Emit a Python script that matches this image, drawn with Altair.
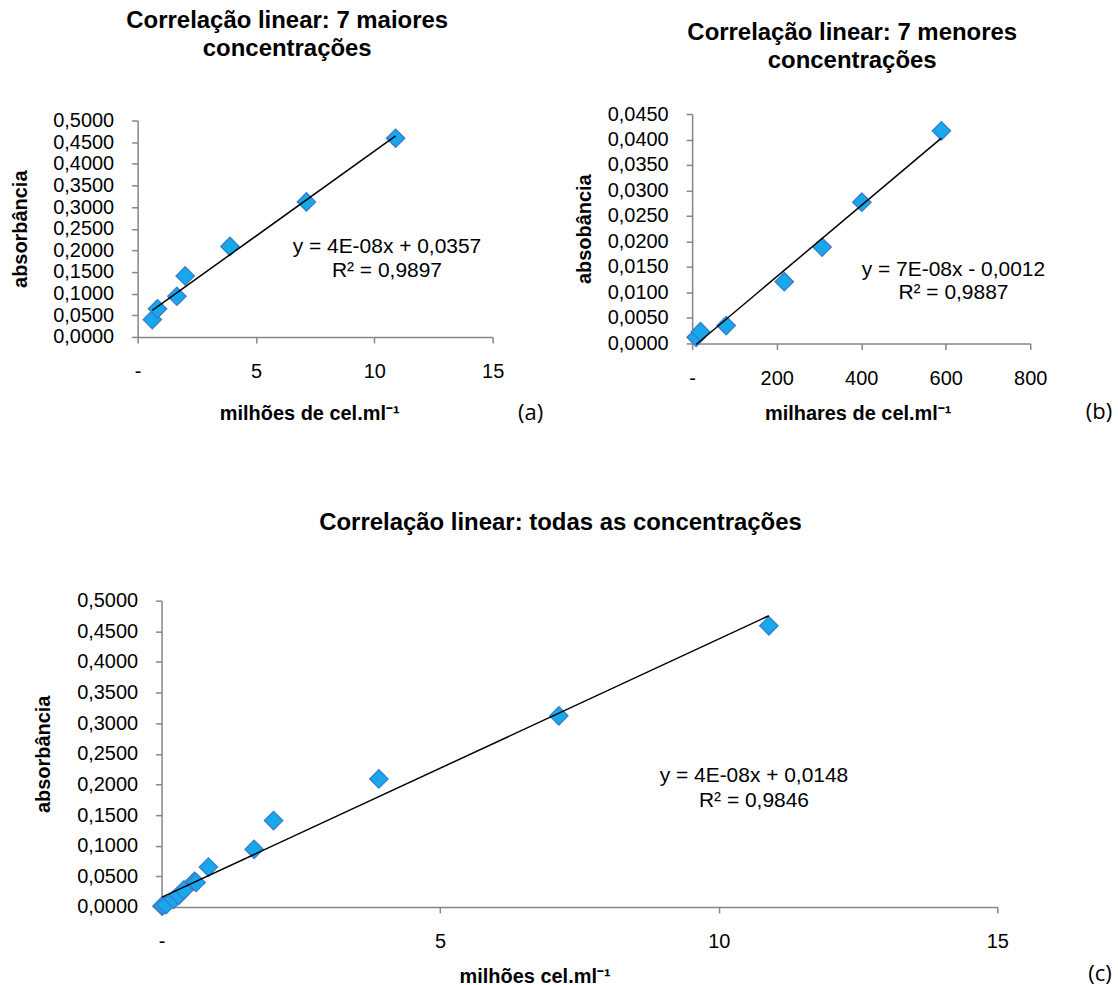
import altair as alt
import pandas as pd

# ---------------- data ----------------
# (a) 7 highest concentrations, millions of cells/ml
a_x = [0.62, 0.84, 1.66, 2.01, 3.90, 7.13, 10.90]
a_y = [0.0400, 0.0650, 0.0940, 0.1410, 0.2090, 0.3120, 0.4590]
# (b) 7 lowest concentrations, thousands of cells/ml
b_x = [9.5, 19.8, 80.6, 218.0, 307.5, 401.6, 589.7]
b_y = [0.0012, 0.0023, 0.0035, 0.0121, 0.0189, 0.0277, 0.0417]
# (c) all concentrations, millions of cells/ml
c_x = [0.0095, 0.0198, 0.0806, 0.218, 0.3075, 0.4016, 0.5897,
       0.62, 0.84, 1.66, 2.01, 3.90, 7.13, 10.90]
c_y = [0.0012, 0.0023, 0.0035, 0.0121, 0.0189, 0.0277, 0.0417,
       0.0400, 0.0650, 0.0940, 0.1410, 0.2090, 0.3120, 0.4590]

a_yticks = [0, 0.05, 0.1, 0.15, 0.2, 0.25, 0.3, 0.35, 0.4, 0.45, 0.5]
b_yticks = [0, 0.005, 0.01, 0.015, 0.02, 0.025, 0.03, 0.035, 0.04, 0.045]
a_xticks = [0, 5, 10, 15]
b_xticks = [0, 200, 400, 600, 800]

eq_a = "y = 4E-08x + 0,0357\nR² = 0,9897"
eq_b = "y = 7E-08x - 0,0012\nR² = 0,9887"
eq_c = "y = 4E-08x + 0,0148\nR² = 0,9846"

FONT = "Liberation Sans"
GRAY = "#868686"
FILL = "#17A7EC"
STROKE = "#3B7CC6"

YFMT = "replace(format(datum.value, '.4f'), '.', ',')"
XFMT = "datum.value == 0 ? '-' : format(datum.value, 'd')"


def panel(xs, ys, width, height, xdom, xticks, ydom, yticks,
          title, title_dx, title_offset,
          ytitle, ytitle_x, xtitle, xtitle_x, xtitle_y,
          eq, eq_x, eq_y, eq_lh, letter, letter_x, letter_y):
    df = pd.DataFrame({"x": xs, "y": ys})
    xenc = alt.X(
        "x:Q",
        scale=alt.Scale(domain=xdom, nice=False, zero=True),
        axis=alt.Axis(values=xticks, labelExpr=XFMT, title=xtitle,
                      titleX=xtitle_x, titleY=xtitle_y,
                      titleBaseline="middle", titleAlign="center",
                      labelPadding=19, labelFlush=False, labelOverlap=False),
    )
    yenc = alt.Y(
        "y:Q",
        scale=alt.Scale(domain=ydom, nice=False, zero=True),
        axis=alt.Axis(values=yticks, labelExpr=YFMT, title=ytitle,
                      titleX=ytitle_x, titleY=height / 2,
                      titleBaseline="middle", titleAlign="center",
                      labelPadding=18, labelFlush=False, labelOverlap=False),
    )
    base = alt.Chart(df)
    pts = base.mark_point(shape="diamond", filled=True, fill=FILL,
                          stroke=STROKE, strokeWidth=1.3, size=340,
                          opacity=1).encode(x=xenc, y=yenc)
    line = base.transform_regression("x", "y").mark_line(
        color="black", strokeWidth=1.5).encode(x=xenc, y=yenc)
    eqt = alt.Chart(pd.DataFrame({"t": [eq]})).mark_text(
        font=FONT, fontSize=21, lineBreak="\n", lineHeight=eq_lh,
        align="center", baseline="middle", color="black"
    ).encode(x=alt.value(eq_x), y=alt.value(eq_y), text="t:N")
    let = alt.Chart(pd.DataFrame({"t": [letter]})).mark_text(
        font="Open Sans", fontSize=22, align="center", baseline="middle",
        color="black"
    ).encode(x=alt.value(letter_x), y=alt.value(letter_y), text="t:N")
    return alt.layer(pts, line, eqt, let).properties(
        width=width, height=height,
        title=alt.TitleParams(text=title, font=FONT, fontSize=24,
                              fontWeight="bold", color="black",
                              anchor="middle", frame="group", dx=title_dx,
                              offset=title_offset, lineHeight=28),
    )


A = panel(a_x, a_y, 356, 217, [0, 15], a_xticks, [0, 0.5], a_yticks,
          ["Correlação linear: 7 maiores", "concentrações"], -28, 50,
          "absorbância", -117, "milhões de cel.ml⁻¹", 172, 77,
          eq_a, 250, 127, 24, "(a)", 394, 293)

B = panel(b_x, b_y, 339, 230, [0, 800], b_xticks, [0, 0.045], b_yticks,
          ["Correlação linear: 7 menores", "concentrações"], -9, 31,
          "absobância", -108, "milhares de cel.ml⁻¹", 166, 70,
          eq_b, 262, 156, 23, "(b)", 408, 299)

C = panel(c_x, c_y, 838, 307, [0, 15], a_xticks, [0, 0.5], a_yticks,
          "Correlação linear: todas as concentrações", -19, 56,
          "absorbância", -118, "milhões cel.ml⁻¹", 374, 70,
          eq_c, 594, 176, 25, "(c)", 941, 374)

spacer = alt.Chart(pd.DataFrame({"v": [0]})).mark_point(opacity=0).encode(
    x=alt.value(0), y=alt.value(0)).properties(width=24, height=20)

top = alt.hconcat(A, B, spacing=200, bounds="flush", center=True)
bottom = alt.hconcat(spacer, C, spacing=0, bounds="flush")

chart = alt.vconcat(top, bottom, spacing=488, bounds="flush").properties(
    padding={"left": 10, "top": 7, "right": 5, "bottom": 5},
    background="white",
).configure_view(stroke="transparent").configure_axis(
    domainColor=GRAY, domainWidth=1.5, tickColor=GRAY, tickWidth=1.5,
    tickSize=6, grid=False, labelFont=FONT, labelFontSize=20,
    labelColor="black", titleFont=FONT, titleFontSize=20,
    titleFontWeight="bold", titleColor="black"
)

chart.save("out.html", embed_options={"renderer": "svg", "actions": False})
